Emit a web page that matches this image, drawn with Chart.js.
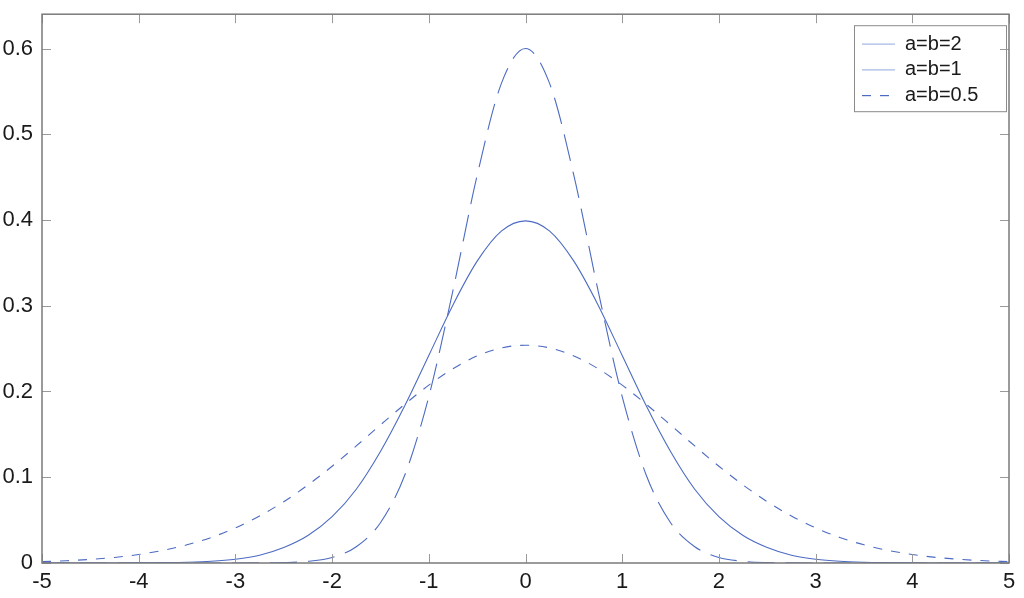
<!DOCTYPE html>
<html>
<head>
<meta charset="utf-8">
<script src="https://cdn.jsdelivr.net/npm/chart.js@4/dist/chart.umd.min.js"></script>
<style>
  html, body { margin: 0; padding: 0; background: #fff; }
  #wrap { width: 1024px; height: 598px; position: relative; }
</style>
</head>
<body>
<div id="wrap"><canvas id="chart"></canvas></div>
<script>
// x positions (step 0.25) and curve values
const xs = [
  -5, -4.75, -4.5, -4.25, -4, -3.75, -3.5, -3.25, -3, -2.75, -2.5, -2.25, -2, -1.75, -1.5, -1.25, -1, -0.75, -0.5, -0.25,
  0, 0.25, 0.5, 0.75, 1, 1.25, 1.5, 1.75, 2, 2.25, 2.5, 2.75, 3, 3.25, 3.5, 3.75, 4, 4.25, 4.5, 4.75, 5
];

// a=b=2 (tall, long dashes)
const ab2 = [
  0, 0, 0, 0, 0, 0, 0, 0, 0, 0.0001, 0.0005, 0.002, 0.0065, 0.019, 0.047, 0.102, 0.194, 0.318, 0.452, 0.559,
  0.600, 0.559, 0.452, 0.318, 0.194, 0.102, 0.047, 0.019, 0.0065, 0.002, 0.0005, 0.0001, 0, 0, 0, 0, 0, 0, 0, 0, 0
];

// a=b=1 (solid)
const ab1 = [
  0, 0, 0, 0, 0.0001, 0.0004, 0.0009, 0.002, 0.0044, 0.009, 0.018, 0.032, 0.054, 0.086, 0.130, 0.183, 0.242, 0.301, 0.352, 0.387,
  0.399, 0.387, 0.352, 0.301, 0.242, 0.183, 0.130, 0.086, 0.054, 0.032, 0.018, 0.009, 0.0044, 0.002, 0.0009, 0.0004, 0.0001, 0, 0, 0, 0
];

// a=b=0.5 (flat, short dashes)
const ab05 = [
  0.0016, 0.0026, 0.0042, 0.0065, 0.0099, 0.0147, 0.0212, 0.0298, 0.0409, 0.0548, 0.0715, 0.091, 0.1128, 0.1365, 0.161, 0.185, 0.2074, 0.2266, 0.2415, 0.2508,
  0.254, 0.2508, 0.2415, 0.2266, 0.2074, 0.185, 0.161, 0.1365, 0.1128, 0.091, 0.0715, 0.0548, 0.0409, 0.0298, 0.0212, 0.0147, 0.0099, 0.0065, 0.0042, 0.0026, 0.0016
];

const seriesLabels = ['a=b=2', 'a=b=1', 'a=b=0.5'];
const xTicks = [-5, -4, -3, -2, -1, 0, 1, 2, 3, 4, 5];
const yTicks = [0, 0.1, 0.2, 0.3, 0.4, 0.5, 0.6];

const LINE = '#4d6bc2';
const FONT = "'Liberation Sans', Arial, sans-serif";

function toPoints(ys) {
  return xs.map((x, i) => ({ x: x, y: ys[i] }));
}

// box + inward ticks on all four sides, matlab style
const framePlugin = {
  id: 'frame',
  afterDraw(chart) {
    const ctx = chart.ctx;
    const a = chart.chartArea;
    const sx = chart.scales.x;
    const sy = chart.scales.y;
    const len = 9;
    ctx.save();
    ctx.strokeStyle = '#9a9a9a';
    ctx.lineWidth = 1;
    ctx.beginPath();
    xTicks.forEach(v => {
      const px = Math.round(sx.getPixelForValue(v)) + 0.5;
      ctx.moveTo(px, a.bottom); ctx.lineTo(px, a.bottom - len);
      ctx.moveTo(px, a.top); ctx.lineTo(px, a.top + len);
    });
    yTicks.forEach(v => {
      const py = Math.round(sy.getPixelForValue(v)) + 0.5;
      ctx.moveTo(a.left, py); ctx.lineTo(a.left + len, py);
      ctx.moveTo(a.right, py); ctx.lineTo(a.right - len, py);
    });
    ctx.stroke();
    ctx.strokeStyle = '#7a7a7a';
    ctx.lineWidth = 1.5;
    ctx.strokeRect(a.left, a.top, a.right - a.left, a.bottom - a.top);
    ctx.restore();
  }
};

// legend box drawn inside the plot, top right
const insideLegend = {
  id: 'insideLegend',
  afterDatasetsDraw(chart) {
    const ctx = chart.ctx;
    const a = chart.chartArea;
    const w = 152, h = 86;
    const x0 = a.right - w - 3, y0 = a.top + 11;
    ctx.save();
    ctx.fillStyle = '#fff';
    ctx.fillRect(x0, y0, w, h);
    ctx.strokeStyle = '#8a8a8a';
    ctx.lineWidth = 1;
    ctx.strokeRect(x0 + 0.5, y0 + 0.5, w, h);
    ctx.font = '20px ' + FONT;
    ctx.textBaseline = 'middle';
    ctx.fillStyle = '#1a1a1a';
    chart.data.datasets.forEach((ds, i) => {
      const cy = y0 + 19 + i * 25.7;
      ctx.strokeStyle = ds.legendColor || ds.borderColor;
      ctx.lineWidth = 1.2;
      ctx.setLineDash(ds.legendDash || []);
      ctx.beginPath();
      ctx.moveTo(x0 + 8, cy);
      ctx.lineTo(x0 + 41, cy);
      ctx.stroke();
      ctx.setLineDash([]);
      ctx.fillText(ds.label, x0 + 51, cy);
    });
    ctx.restore();
  }
};

const ctx = document.getElementById('chart').getContext('2d');
new Chart(ctx, {
  type: 'line',
  data: {
    datasets: [
      {
        label: seriesLabels[0],
        data: toPoints(ab2),
        borderColor: LINE,
        borderWidth: 1.1,
        borderDash: [27, 11],
        legendColor: '#a9b8e4',
        legendDash: []
      },
      {
        label: seriesLabels[1],
        data: toPoints(ab1),
        borderColor: LINE,
        borderWidth: 1.1,
        legendColor: '#a9b8e4',
        legendDash: []
      },
      {
        label: seriesLabels[2],
        data: toPoints(ab05),
        borderColor: LINE,
        borderWidth: 1.1,
        borderDash: [9, 9],
        legendDash: [9, 9]
      }
    ]
  },
  options: {
    animation: false,
    responsive: true,
    maintainAspectRatio: false,
    layout: { padding: { top: 6, right: 15, left: 0, bottom: 0 } },
    elements: {
      point: { radius: 0 },
      line: { cubicInterpolationMode: 'monotone', fill: false }
    },
    plugins: {
      legend: { display: false },
      tooltip: { enabled: false }
    },
    scales: {
      x: {
        type: 'linear',
        min: -5,
        max: 5,
        afterBuildTicks: (scale) => { scale.ticks = xTicks.map(v => ({ value: v })); },
        afterFit: (scale) => { scale.height = 35; },
        grid: { display: false },
        border: { display: false },
        ticks: {
          color: '#1a1a1a',
          font: { family: FONT, size: 22 },
          padding: -2,
          maxRotation: 0,
          callback: (v) => String(v)
        }
      },
      y: {
        min: 0,
        max: 0.64,
        afterBuildTicks: (scale) => { scale.ticks = yTicks.map(v => ({ value: v })); },
        afterFit: (scale) => { scale.width = 42; },
        grid: { display: false },
        border: { display: false },
        ticks: {
          color: '#1a1a1a',
          font: { family: FONT, size: 22 },
          padding: 1,
          callback: (v) => String(v)
        }
      }
    }
  },
  plugins: [framePlugin, insideLegend]
});
</script>
</body>
</html>
